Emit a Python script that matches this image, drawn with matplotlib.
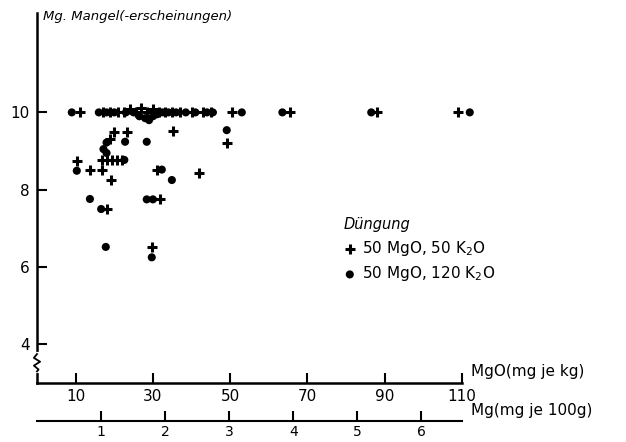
import matplotlib
matplotlib.use("Agg")
import matplotlib.pyplot as plt

# Düngung 50 MgO, 50 K2O  (+)
plus_x = [11, 17, 19, 21, 22.5, 24, 25.5, 27, 28.5, 30, 31.5, 33, 35, 37, 40, 43, 45,
          50.5, 65.5, 88, 109,
          20, 23.2, 35.1, 49.1, 18.9,
          10.3, 16.8, 18.0, 19.3, 20.6, 21.9,
          13.7, 16.9, 31.0, 42.0, 19.2,
          31.8, 18.2, 29.7]
plus_y = [10, 10, 10, 10, 10, 10.1, 10, 10.12, 10, 10.1, 10, 10, 10, 10, 10, 10, 10,
          10, 10, 10, 10,
          9.48, 9.5, 9.52, 9.22, 9.31,
          8.75, 8.77, 8.77, 8.77, 8.77, 8.77,
          8.52, 8.5, 8.52, 8.43, 8.24,
          7.75, 7.5, 6.52]

# Düngung 50 MgO, 120 K2O  (•)
dot_x = [9, 16, 18, 20, 23, 25, 26.5, 28, 29, 30, 31, 32.5, 34, 36, 38.5, 41, 44, 45.5,
         53, 63.5, 86.5, 112,
         49.1, 22.8, 18.0, 28.4, 17.2, 18.0,
         22.6, 10.3, 32.3, 34.9,
         13.7, 28.4, 30.0, 16.6,
         17.8, 29.7]
dot_y = [10, 10, 10, 10, 10, 10, 9.9, 9.85, 9.8, 9.9, 9.95, 10, 10, 10, 10, 10, 10, 10,
         10, 10, 10, 10,
         9.54, 9.24, 9.22, 9.24, 9.05, 8.95,
         8.77, 8.49, 8.52, 8.25,
         7.76, 7.75, 7.75, 7.5,
         6.52, 6.25]

y_ticks = [4, 6, 8, 10]
mgo_ticks = [10, 30, 50, 70, 90, 110]
mg_ticks = [1, 2, 3, 4, 5, 6]


def mgo_to_mg(v):
    return v * 0.0603


def mg_to_mgo(v):
    return v / 0.0603


fig = plt.figure(figsize=(6.26, 4.42), dpi=100)
ax = fig.add_axes([0.0591, 0.1335, 0.679, 0.837])

pl = ax.scatter(plus_x, plus_y, marker='+', s=50, linewidths=2.2, color='black',
                clip_on=False, zorder=3)
dt = ax.scatter(dot_x, dot_y, marker='o', s=34, color='black', edgecolors='none',
                clip_on=False, zorder=3)

ax.set_xlim(0, 110)
ax.set_ylim(3, 12.57)
ax.spines[['top', 'right']].set_visible(False)
for s in ['left', 'bottom']:
    ax.spines[s].set_linewidth(1.8)

ax.set_yticks(y_ticks)
ax.set_yticklabels([str(t) for t in y_ticks])
ax.set_xticks(mgo_ticks)
ax.set_xticklabels([str(t) for t in mgo_ticks])
ax.tick_params(axis='y', direction='in', length=7, width=1.5, pad=5, labelsize=11)
ax.tick_params(axis='x', direction='in', length=7, width=1.5, pad=4, labelsize=11)

# axis break on the y axis
ax.plot([0, 0], [3.3, 3.75], color='white', lw=3, clip_on=False, zorder=4)
ax.plot([0, -0.8, 0.8, -0.8, 0.4, 0], [3.75, 3.65, 3.55, 3.45, 3.35, 3.3],
        color='black', lw=1.3, clip_on=False, zorder=5)

# second x axis: Mg (mg je 100 g)
sec = ax.secondary_xaxis(-0.103, functions=(mgo_to_mg, mg_to_mgo))
sec.set_xticks(mg_ticks)
sec.set_xticklabels([str(t) for t in mg_ticks])
sec.spines['bottom'].set_linewidth(1.5)
sec.tick_params(direction='in', length=7, width=1.5, pad=2.5, labelsize=10)

ax.text(0.015, 0.99, 'Mg. Mangel(-erscheinungen)', transform=ax.transAxes,
        fontsize=9.5, style='italic', ha='left', va='center')
ax.text(1.02, 0.03, 'MgO(mg je kg)', transform=ax.transAxes, fontsize=11,
        ha='left', va='center')
ax.text(1.02, -0.075, 'Mg(mg je 100g)', transform=ax.transAxes, fontsize=11,
        ha='left', va='center')

leg = ax.legend([pl, dt], ['50 MgO, 50 K$_2$O', '50 MgO, 120 K$_2$O'],
                title='Düngung', loc='upper left',
                bbox_to_anchor=(333 / 626, 1 - 206 / 442), bbox_transform=fig.transFigure,
                frameon=False, fontsize=11, handlelength=0.8, handletextpad=0.4,
                labelspacing=0.45, borderpad=0.2, alignment='left',
                title_fontproperties={'style': 'italic', 'size': 10.5})

fig.savefig('out.png', dpi=100, facecolor='white')
